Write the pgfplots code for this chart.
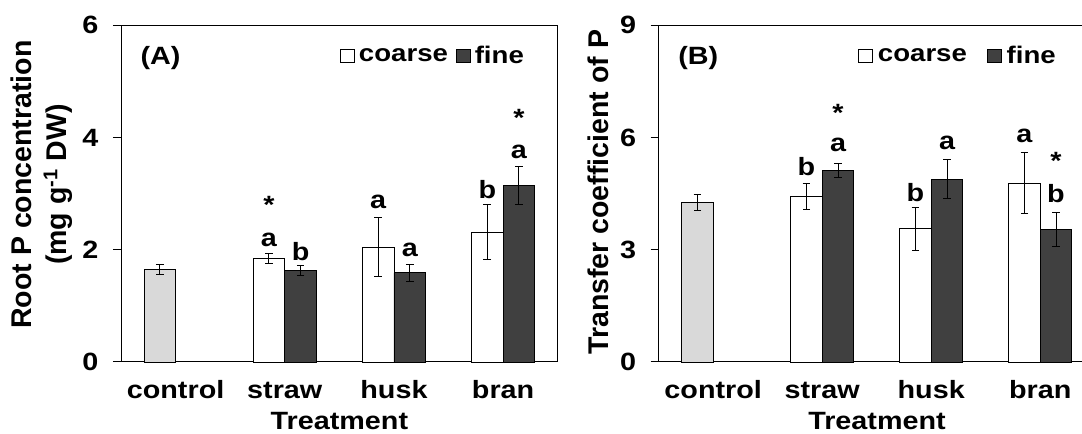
\documentclass[border=0pt]{standalone}
\usepackage{pgfplots}
\pgfplotsset{compat=1.18}
\usepackage{fontspec}
\setmainfont{Liberation Sans}
\newfontfamily\hfont{Liberation Sans}[FakeStretch=1.15]
\newcommand\lab{\hfont\bfseries\fontsize{25bp}{29bp}\selectfont}
\newcommand\leglab{\hfont\bfseries\fontsize{24bp}{28bp}\selectfont}
\newcommand\vlab{\bfseries\fontsize{28.5bp}{35bp}\selectfont}
\definecolor{ctrl}{HTML}{D9D9D9}
\definecolor{dark}{HTML}{404040}

\pgfplotstableread{
x y e
0 1.65 0.086
}\ctrlA
\pgfplotstableread{
x y e
1 1.84 0.086
2 2.05 0.52
3 2.31 0.49
}\coarseA
\pgfplotstableread{
x y e
1 1.63 0.09
2 1.59 0.15
3 3.15 0.34
}\fineA
\pgfplotstableread{
x y e
0 4.26 0.22
}\ctrlB
\pgfplotstableread{
x y e
1 4.42 0.34
2 3.56 0.58
3 4.78 0.81
}\coarseB
\pgfplotstableread{
x y e
1 5.11 0.19
2 4.89 0.51
3 3.55 0.45
}\fineB

\pgfplotsset{
  sqleg/.style={legend image code/.code={\draw[##1,line width=0.8bp] (0bp,-6.5bp) rectangle (14bp,6.5bp);}},
  eb/.style={error bars/.cd, y dir=both, y explicit,
    error bar style={line width=1bp, black},
    error mark options={rotate=90, mark size=3.8bp, line width=1bp, black}},
  panel/.style={
    scale only axis, height=336.7bp,
    ybar, bar width=0.29,
    xmin=-0.5, xmax=3.5, ymin=0,
    xtick={0,1,2,3}, xticklabels={control,straw,husk,bran},
    x tick style={draw=none},
    ytick pos=left,
    tick align=outside, major tick length=8bp,
    y tick style={black, line width=1bp},
    axis line style={line width=1bp, black},
    /pgf/number format/assume math mode=true,
    tick label style={font=\lab},
    xticklabel style={anchor=base, yshift=-28bp},
    yticklabel style={xshift=-11bp},
    clip=false,
    legend columns=2,
  },
}

\begin{document}
\begin{tikzpicture}
\path[use as bounding box] (0,0) rectangle (1082bp,434bp);

% Panel A
\begin{axis}[panel, at={(121bp,72bp)}, anchor=south west, width=436.7bp,
  ymax=6, ytick={0,2,4,6},
  legend style={draw=none, fill=none, font=\leglab, inner sep=0pt,
    at={(0.5015,0.909)}, anchor=west,
    /tikz/every odd column/.append style={column sep=2bp},
    /tikz/every even column/.append style={column sep=6bp}}]
\addplot[fill=ctrl, draw=black, line width=0.8bp, bar shift=-0.145, forget plot, eb]
  table[x=x, y=y, y error=e] {\ctrlA};
\addplot[fill=white, draw=black, line width=0.8bp, bar shift=-0.145, sqleg, eb]
  table[x=x, y=y, y error=e] {\coarseA};
\addlegendentry{coarse}
\addplot[fill=dark, draw=black, line width=0.8bp, bar shift=0.145, sqleg, eb]
  table[x=x, y=y, y error=e] {\fineA};
\addlegendentry{fine}
\node[font=\lab, anchor=base west] at (rel axis cs:0.0366,0.885) {(A)};
\node[font=\lab, anchor=base] at (axis cs:0.855,2.06) {a};
\node[font=\lab, anchor=base] at (axis cs:0.855,2.64) {*};
\node[font=\lab, anchor=base] at (axis cs:1.145,1.81) {b};
\node[font=\lab, anchor=base] at (axis cs:1.855,2.74) {a};
\node[font=\lab, anchor=base] at (axis cs:2.145,1.88) {a};
\node[font=\lab, anchor=base] at (axis cs:2.855,2.92) {b};
\node[font=\lab, anchor=base] at (axis cs:3.145,3.63) {a};
\node[font=\lab, anchor=base] at (axis cs:3.145,4.19) {*};
\end{axis}

% Panel B
\begin{axis}[panel, at={(658.7bp,72bp)}, anchor=south west, width=436bp,
  ymax=9, ytick={0,3,6,9},
  axis y line*=left,
  legend style={draw=none, fill=none, font=\leglab, inner sep=0pt,
    at={(0.457,0.909)}, anchor=west,
    /tikz/every odd column/.append style={column sep=3bp},
    /tikz/every even column/.append style={column sep=18bp}}]
\addplot[fill=ctrl, draw=black, line width=0.8bp, bar shift=-0.145, forget plot, eb]
  table[x=x, y=y, y error=e] {\ctrlB};
\addplot[fill=white, draw=black, line width=0.8bp, bar shift=-0.145, sqleg, eb]
  table[x=x, y=y, y error=e] {\coarseB};
\addlegendentry{coarse}
\addplot[fill=dark, draw=black, line width=0.8bp, bar shift=0.145, sqleg, eb]
  table[x=x, y=y, y error=e] {\fineB};
\addlegendentry{fine}
\node[font=\lab, anchor=base west] at (rel axis cs:0.037,0.885) {(B)};
\node[font=\lab, anchor=base] at (axis cs:0.855,4.99) {b};
\node[font=\lab, anchor=base] at (axis cs:1.145,5.62) {a};
\node[font=\lab, anchor=base] at (axis cs:1.145,6.44) {*};
\node[font=\lab, anchor=base] at (axis cs:1.855,4.30) {b};
\node[font=\lab, anchor=base] at (axis cs:2.145,5.68) {a};
\node[font=\lab, anchor=base] at (axis cs:2.855,5.88) {a};
\node[font=\lab, anchor=base] at (axis cs:3.145,5.14) {*};
\node[font=\lab, anchor=base] at (axis cs:3.145,4.26) {b};
\end{axis}

% axis titles
\node[rotate=90, align=center, font=\vlab] at (41.5bp,249.5bp)
  {Root P concentration\\(mg g\textsuperscript{-1} DW)};
\node[rotate=90, font=\vlab] at (598bp,241.7bp) {Transfer coefficient of P};
\node[font=\lab, anchor=base, inner sep=1bp] at (339.4bp,5bp) {Treatment};
\node[font=\lab, anchor=base, inner sep=1bp] at (877bp,5bp) {Treatment};
\end{tikzpicture}
\end{document}
